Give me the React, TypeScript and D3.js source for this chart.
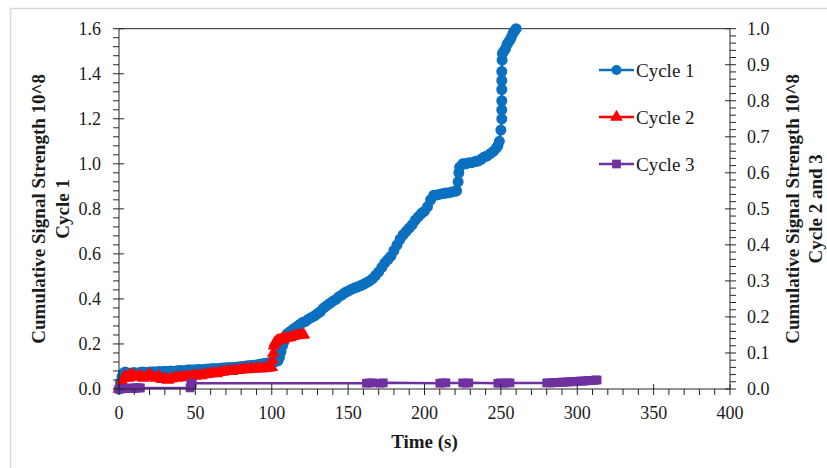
import React from "react";
import * as d3 from "d3";

// Cycle 1 (left axis, ×10^8)
const cycle1Time = [
  0, 1, 2, 3, 4, 5, 6, 8, 10, 12, 14, 16, 18, 20, 22, 24, 26, 28, 30, 32, 34, 36, 38, 40, 42, 44, 46, 48, 50,
  52, 54, 56, 58, 60, 62, 64, 66, 68, 70, 72, 74, 76, 78, 80, 82, 84, 86, 88, 90, 92, 94, 96, 98, 100,
  102, 104, 105, 106, 107, 108, 109, 110, 112, 114, 116, 118, 120, 122, 124, 126, 128, 130, 132, 134, 136, 138, 140,
  142, 144, 146, 148, 150, 152, 154, 156, 158, 160, 162, 164, 166, 168, 170, 172, 174, 176, 178, 180,
  182, 184, 186, 188, 190, 192, 194, 196, 198, 200, 202, 204, 206, 208, 210, 212, 214, 216, 218, 220, 221,
  222, 222.5, 223, 225, 227, 229, 231, 233, 235, 237, 239, 241, 243, 245, 247, 248, 249, 250,
  250.6, 250.6, 250.6, 250.6, 250.6, 250.6, 250.8, 251, 252, 253, 254, 255, 256, 257, 258, 259, 260,
];
const cycle1Value = [
  0, 0.03, 0.055, 0.07, 0.075, 0.072, 0.07, 0.071, 0.073, 0.07, 0.074, 0.075, 0.073, 0.076, 0.077, 0.075, 0.078, 0.077, 0.079, 0.078, 0.08, 0.079, 0.081, 0.082, 0.081, 0.083, 0.085, 0.084, 0.086,
  0.087, 0.086, 0.088, 0.089, 0.09, 0.091, 0.09, 0.092, 0.093, 0.094, 0.095, 0.096, 0.097, 0.098, 0.1, 0.101, 0.103, 0.104, 0.106, 0.107, 0.11, 0.112, 0.114, 0.117, 0.12,
  0.12, 0.125, 0.14, 0.165, 0.19, 0.21, 0.23, 0.245, 0.255, 0.265, 0.275, 0.285, 0.295, 0.3, 0.31, 0.318, 0.325, 0.335, 0.345, 0.36, 0.37, 0.38, 0.39,
  0.398, 0.41, 0.418, 0.428, 0.435, 0.442, 0.448, 0.453, 0.458, 0.465, 0.472, 0.48, 0.49, 0.505, 0.52, 0.54, 0.56, 0.575, 0.59, 0.615,
  0.64, 0.665, 0.685, 0.7, 0.715, 0.73, 0.75, 0.765, 0.78, 0.79, 0.81, 0.84, 0.86, 0.862, 0.865, 0.868, 0.87, 0.872, 0.875, 0.878, 0.88,
  0.92, 0.96, 0.985, 1.0, 1.0, 1.005, 1.005, 1.01, 1.012, 1.02, 1.03, 1.035, 1.045, 1.055, 1.07, 1.08, 1.1, 1.15,
  1.2, 1.24, 1.28, 1.33, 1.37, 1.41, 1.46, 1.49, 1.5, 1.51, 1.53, 1.54, 1.55, 1.565, 1.58, 1.59, 1.6,
];

// Cycle 2 (right axis, ×10^8)
const cycle2Time = [
  0, 1, 2, 3, 4, 5, 6, 7, 8, 9, 10, 12, 14, 16, 18, 20, 22, 24, 26, 28, 30, 32, 34, 36, 38, 40, 42, 44, 46, 48, 50,
  52, 54, 56, 58, 60, 62, 64, 66, 68, 70, 72, 74, 76, 78, 80, 82, 84, 86, 88, 90, 92, 94, 96, 98, 100,
  100.5, 101, 101.5, 102, 103, 104, 105, 106, 107, 108, 110, 112, 114, 116, 118, 120, 121,
];
const cycle2Value = [
  0, 0.012, 0.022, 0.03, 0.035, 0.033, 0.03, 0.038, 0.035, 0.04, 0.036, 0.033, 0.037, 0.03, 0.035, 0.04, 0.034, 0.03, 0.036, 0.027, 0.03, 0.025, 0.028, 0.032, 0.03, 0.034, 0.032, 0.036, 0.034, 0.037, 0.036,
  0.038, 0.037, 0.04, 0.041, 0.043, 0.044, 0.043, 0.046, 0.047, 0.049, 0.05, 0.049, 0.052, 0.052, 0.053, 0.055, 0.054, 0.055, 0.056, 0.057, 0.056, 0.057, 0.058, 0.058, 0.06,
  0.08, 0.1, 0.12, 0.128, 0.132, 0.135, 0.135, 0.137, 0.138, 0.14, 0.141, 0.143, 0.146, 0.148, 0.15, 0.15, 0.15,
];

// Cycle 3 (right axis, ×10^8)
const cycle3Time = [
  0, 1, 2, 3, 4, 5, 6, 7, 8, 9, 10, 11, 12, 13, 14, 46.5, 47, 47.5, 48,
  162, 164, 166, 171, 173, 210, 212, 214, 225, 227, 229, 248, 250, 252, 254, 256, 280,
  282, 283.5, 285, 286.5, 288, 289.5, 291, 292.5, 294, 295.5, 297, 298.5, 300, 301.5, 303, 304.5, 306, 307.5, 309, 310.5, 312, 313,
];
const cycle3Value = [
  0, 0, 0.001, 0.001, 0.002, 0.001, 0.002, 0.002, 0.002, 0.003, 0.002, 0.003, 0.003, 0.003, 0.003, 0.003, 0.01, 0.016, 0.016,
  0.016, 0.017, 0.017, 0.016, 0.017, 0.016, 0.017, 0.017, 0.017, 0.016, 0.017, 0.016, 0.017, 0.016, 0.017, 0.017, 0.017,
  0.017, 0.017, 0.018, 0.018, 0.018, 0.019, 0.019, 0.019, 0.02, 0.02, 0.02, 0.021, 0.021, 0.022, 0.022, 0.022, 0.023, 0.023, 0.024, 0.024, 0.025, 0.025,
];

const xTicks = [0, 50, 100, 150, 200, 250, 300, 350, 400];
const leftTicks = [0, 0.2, 0.4, 0.6, 0.8, 1.0, 1.2, 1.4, 1.6];
const rightTicks = [0, 0.1, 0.2, 0.3, 0.4, 0.5, 0.6, 0.7, 0.8, 0.9, 1.0];
const seriesNames = ["Cycle 1", "Cycle 2", "Cycle 3"];

const BLUE = "#0A70BF";
const RED = "#FF0000";
const PURPLE = "#7030A0";
const FONT = "'Liberation Serif', 'Times New Roman', serif";

const W = 827;
const H = 468;
const left = 119;
const right = 730;
const top = 28.7;
const bottom = 389;

export default function App() {
  const x = d3.scaleLinear().domain([0, 400]).range([left, right]);
  const yL = d3.scaleLinear().domain([0, 1.6]).range([bottom, top]);
  const yR = d3.scaleLinear().domain([0, 1.0]).range([bottom, top]);

  const s1 = cycle1Time.map((t, i) => [t, cycle1Value[i]] as [number, number]);
  const s2 = cycle2Time.map((t, i) => [t, cycle2Value[i]] as [number, number]);
  const s3 = cycle3Time.map((t, i) => [t, cycle3Value[i]] as [number, number]);

  const lineL = d3.line<[number, number]>().x((d) => x(d[0])).y((d) => yL(d[1]));
  const lineR = d3.line<[number, number]>().x((d) => x(d[0])).y((d) => yR(d[1]));

  const tri = d3.symbol(d3.symbolTriangle, 70)() as string;
  const sq = d3.symbol(d3.symbolSquare, 76)() as string;

  const xMinor = d3.range(0, 401, 10).filter((v) => v % 50 !== 0);
  const lMinor = d3.range(0, 41).map((i) => i * 0.04).filter((_, i) => i % 5 !== 0);
  const rMinor = d3.range(0, 51).map((i) => i * 0.02).filter((_, i) => i % 5 !== 0);

  const axisColor = "#262626";
  const textColor = "#1a1a1a";
  const legendY = [70, 117, 164];

  return (
    <div style={{ position: "absolute", left: 0, top: 0 }}>
      <svg width={W} height={H} style={{ display: "block", background: "#ffffff" }}>
        <rect x={10.5} y={8.5} width={840} height={480} fill="#ffffff" stroke="#d9d9d9" strokeWidth={1.5} />

        {/* plot frame */}
        <line x1={left} x2={right} y1={top} y2={top} stroke={axisColor} strokeWidth={1} />

        {/* series */}
        <path d={lineL(s1) as string} fill="none" stroke={BLUE} strokeWidth={2.5} />
        {s1.map((d, i) => (
          <circle key={"c1" + i} cx={x(d[0])} cy={yL(d[1])} r={5.5} fill={BLUE} />
        ))}
        <path d={lineR(s2) as string} fill="none" stroke={RED} strokeWidth={2.5} />
        {s2.map((d, i) => (
          <path key={"c2" + i} d={tri} transform={`translate(${x(d[0])},${yR(d[1])})`} fill={RED} />
        ))}
        <path d={lineR(s3) as string} fill="none" stroke={PURPLE} strokeWidth={2.5} />
        {s3.map((d, i) => (
          <path key={"c3" + i} d={sq} transform={`translate(${x(d[0])},${yR(d[1])})`} fill={PURPLE} />
        ))}

        {/* left axis */}
        <line x1={left} x2={left} y1={top} y2={bottom} stroke={axisColor} strokeWidth={1} />
        {leftTicks.map((v) => (
          <g key={"lt" + v}>
            <line x1={left - 6} x2={left + 5} y1={yL(v)} y2={yL(v)} stroke={axisColor} />
            <text x={left - 18} y={yL(v)} textAnchor="end" dominantBaseline="central" fontFamily={FONT} fontSize={18} fill={textColor}>
              {v.toFixed(1)}
            </text>
          </g>
        ))}
        {lMinor.map((v, i) => (
          <line key={"lm" + i} x1={left - 6} x2={left} y1={yL(v)} y2={yL(v)} stroke={axisColor} />
        ))}

        {/* right axis */}
        <line x1={right} x2={right} y1={top} y2={bottom} stroke={axisColor} strokeWidth={1} />
        {rightTicks.map((v) => (
          <g key={"rt" + v}>
            <line x1={right - 5} x2={right + 6} y1={yR(v)} y2={yR(v)} stroke={axisColor} />
            <text x={right + 17} y={yR(v)} textAnchor="start" dominantBaseline="central" fontFamily={FONT} fontSize={18} fill={textColor}>
              {v.toFixed(1)}
            </text>
          </g>
        ))}
        {rMinor.map((v, i) => (
          <line key={"rm" + i} x1={right} x2={right + 6} y1={yR(v)} y2={yR(v)} stroke={axisColor} />
        ))}

        {/* bottom axis */}
        <line x1={left} x2={right} y1={bottom} y2={bottom} stroke={axisColor} strokeWidth={1} />
        {xTicks.map((v) => (
          <g key={"xt" + v}>
            <line x1={x(v)} x2={x(v)} y1={bottom - 5} y2={bottom + 6} stroke={axisColor} />
            <text x={x(v)} y={bottom + 24} textAnchor="middle" dominantBaseline="central" fontFamily={FONT} fontSize={18} fill={textColor}>
              {v}
            </text>
          </g>
        ))}
        {xMinor.map((v) => (
          <line key={"xm" + v} x1={x(v)} x2={x(v)} y1={bottom} y2={bottom + 6} stroke={axisColor} />
        ))}

        {/* axis titles */}
        <text x={(left + right) / 2} y={441} textAnchor="middle" dominantBaseline="central" fontFamily={FONT} fontWeight="bold" fontSize={19} fill={textColor}>
          Time (s)
        </text>
        <g transform={`translate(38, ${(top + bottom) / 2}) rotate(-90)`}>
          <text x={0} y={0} textAnchor="middle" dominantBaseline="central" fontFamily={FONT} fontWeight="bold" fontSize={19} fill={textColor}>
            Cumulative Signal Strength 10^8
          </text>
        </g>
        <g transform={`translate(62, ${(top + bottom) / 2}) rotate(-90)`}>
          <text x={0} y={0} textAnchor="middle" dominantBaseline="central" fontFamily={FONT} fontWeight="bold" fontSize={19} fill={textColor}>
            Cycle 1
          </text>
        </g>
        <g transform={`translate(792, ${(top + bottom) / 2}) rotate(-90)`}>
          <text x={0} y={0} textAnchor="middle" dominantBaseline="central" fontFamily={FONT} fontWeight="bold" fontSize={19} fill={textColor}>
            Cumulative Signal Strength 10^8
          </text>
        </g>
        <g transform={`translate(815, ${(top + bottom) / 2}) rotate(-90)`}>
          <text x={0} y={0} textAnchor="middle" dominantBaseline="central" fontFamily={FONT} fontWeight="bold" fontSize={19} fill={textColor}>
            Cycle 2 and 3
          </text>
        </g>

        {/* legend */}
        {seriesNames.map((name, i) => {
          const color = [BLUE, RED, PURPLE][i];
          const ly = legendY[i];
          return (
            <g key={name}>
              <line x1={599} x2={634} y1={ly} y2={ly} stroke={color} strokeWidth={2.5} />
              {i === 0 && <circle cx={616.5} cy={ly} r={5} fill={color} />}
              {i === 1 && <path d={tri} transform={`translate(616.5,${ly})`} fill={color} />}
              {i === 2 && <path d={sq} transform={`translate(616.5,${ly})`} fill={color} />}
              <text x={636} y={ly} dominantBaseline="central" fontFamily={FONT} fontSize={19} fill={textColor}>
                {name}
              </text>
            </g>
          );
        })}
      </svg>
    </div>
  );
}
